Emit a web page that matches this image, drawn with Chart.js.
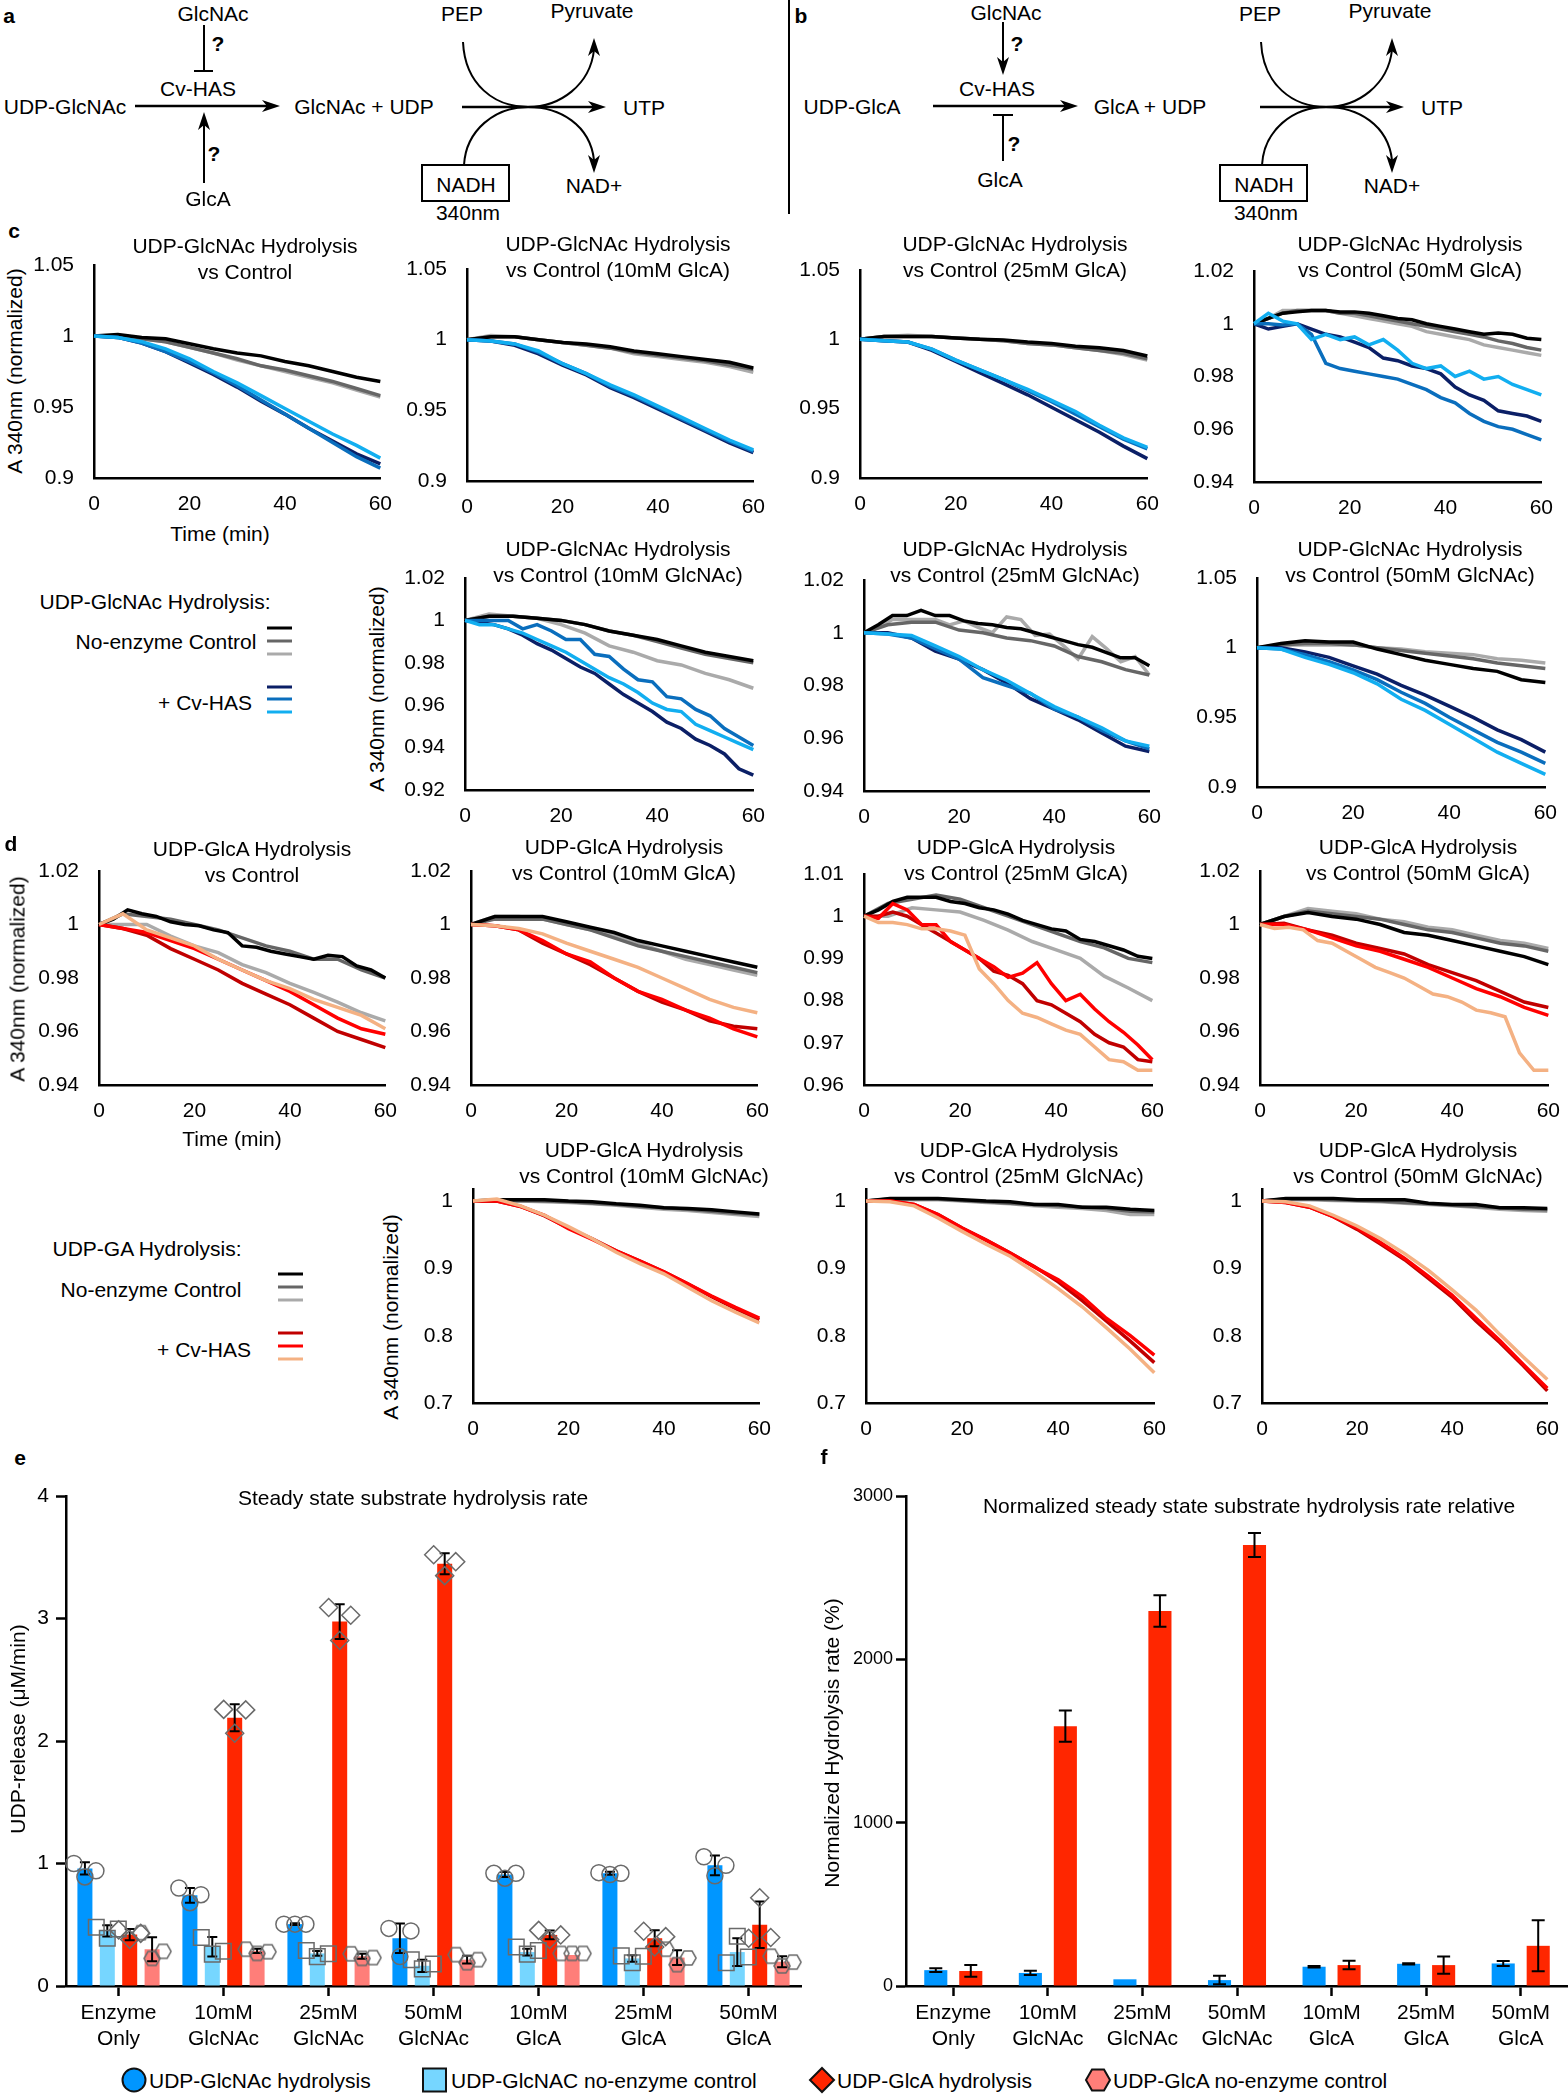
<!DOCTYPE html>
<html>
<head>
<meta charset="utf-8">
<title>Cv-HAS hydrolysis</title>
<script src="https://cdn.jsdelivr.net/npm/chart.js@4"></script>
<style>
  html, body { margin: 0; background: #fff; }
  #page { position: relative; width: 1568px; height: 2096px; overflow: hidden; font-family: "Liberation Sans", Arial, sans-serif; color: #000; }
  #page canvas { position: absolute; }
  #page svg { position: absolute; left: 0; top: 0; }
  .txt { position: absolute; white-space: nowrap; line-height: 1; font-size: 21px; transform: translate(-50%, -50%); }
</style>
</head>
<body>
<div id="page"></div>
<script>
// sampling times, a row with 21 values uses t3, a row with 13 uses t5
const t5 = [0, 5, 10, 15, 20, 25, 30, 35, 40, 45, 50, 55, 60];
const t3 = [0, 3, 6, 9, 12, 15, 18, 21, 24, 27, 30, 33, 36, 39, 42, 45, 48, 51, 54, 57, 60];

// rows: black, dark grey, light grey, then dark, mid, light enzyme curve
const c1Values = [
  [1, 1.001, .999, .998, .9945, .991, .988, .986, .982, .979, .975, .971, .968],
  [1, 1, .998, .996, .992, .988, .984, .979, .976, .972, .968, .963, .958],
  [1, 1, .998, .996, .992, .988, .983, .979, .975, .971, .967, .962, .957],
  [1, .999, .995, .989, .981, .973, .964, .954, .945, .935, .926, .917, .91],
  [1, .999, .995, .989, .982, .974, .965, .955, .945, .935, .925, .915, .907],
  [1, .999, .996, .991, .984, .975, .967, .958, .949, .94, .931, .923, .914]
];
const c2Values = [
  [1, 1.002, 1.002, 1, .998, .997, .995, .992, .99, .988, .986, .984, .98],
  [1, 1.002, 1.002, 1, .998, .996, .994, .991, .989, .987, .985, .982, .979],
  [1, 1.003, 1.002, 1, .998, .996, .994, .99, .988, .986, .984, .981, .977],
  [1, .999, .996, .99, .982, .975, .966, .959, .951, .943, .935, .927, .92],
  [1, .999, .997, .991, .983, .976, .967, .96, .952, .944, .936, .928, .921],
  [1, .999, .997, .992, .983, .976, .968, .961, .953, .945, .937, .929, .922]
];
const c3Values = [
  [1, 1.002, 1.002, 1.002, 1.001, 1, .9995, .998, .997, .995, .994, .992, .988],
  [1, 1.002, 1.002, 1.002, 1.001, 1, .999, .997, .996, .994, .992, .99, .986],
  [1, 1.002, 1.003, 1.002, 1.001, 1, .999, .997, .996, .994, .992, .989, .985],
  [1, .999, .998, .992, .984, .976, .968, .96, .951, .942, .933, .923, .914],
  [1, .999, .998, .993, .985, .978, .971, .963, .955, .946, .937, .928, .921],
  [1, .999, .998, .993, .985, .978, .971, .964, .956, .948, .938, .929, .922]
];
const c4Values = [
  [1, 1.002, 1.004, 1.0045, 1.005, 1.005, 1.0045, 1.0045, 1.004, 1.003, 1.002, 1.0015, 1, .999, .998, .997, .996, .9965, .996, .9945, .994],
  [1, 1.002, 1.004, 1.005, 1.005, 1.005, 1.004, 1.004, 1.003, 1.002, 1.001, 1, .999, .998, .997, .996, .995, .9935, .9925, .991, .99],
  [1, 1.002, 1.005, 1.005, 1.005, 1.005, 1.004, 1.003, 1.002, 1.001, 1, .999, .997, .996, .995, .994, .992, .991, .99, .989, .988],
  [1, .998, .999, 1, .998, .996, .995, .993, .991, .987, .986, .984, .983, .981, .976, .973, .971, .967, .966, .965, .963],
  [1, 1, .9995, 1, .996, .985, .983, .982, .981, .98, .979, .977, .975, .972, .97, .966, .963, .961, .96, .958, .956],
  [1, 1.004, 1.001, 1, .994, .996, .994, .995, .992, .994, .99, .985, .983, .984, .98, .982, .979, .98, .977, .975, .973]
];
const c5Values = [
  [1, 1.002, 1.002, 1.001, 1, .998, .995, .993, .991, .988, .985, .983, .981],
  [1, 1.002, 1.002, 1.001, 1, .998, .995, .993, .99, .987, .984, .982, .98],
  [1, 1.003, 1.002, 1.001, .998, .994, .988, .985, .981, .979, .975, .972, .968],
  [1, .999, .998, .996, .993, .989, .986, .982, .978, .975, .97, .965, .961, .957, .952, .949, .944, .941, .937, .93, .927],
  [1, 1, 1, 1, .996, .998, .995, .991, .991, .984, .983, .977, .972, .971, .964, .963, .958, .955, .949, .945, .941],
  [1, .998, .998, .996, .994, .991, .988, .985, .981, .977, .973, .97, .966, .961, .958, .957, .951, .948, .945, .942, .939]
];
const c6Values = [
  [1, 1.003, 1.0065, 1.0065, 1.0085, 1.0065, 1.0065, 1.0045, 1.0035, 1.003, 1.002, 1.0015, 1, .9985, .997, .9955, .9945, .9925, .9905, .9905, .9875],
  [1, 1.003, 1.004, 1.004, 1.001, 1, .998, .997, .995, .991, .989, .986, .984],
  [1, 1.002, 1.005, 1.005, 1.005, 1.005, 1.003, 1.0045, 1.002, 1, 1.006, 1.005, .999, .9995, .995, .99, .9985, .994, .989, .991, .984],
  [1, 1, .998, .993, .99, .986, .981, .975, .971, .967, .962, .957, .955],
  [1, .9995, .998, .994, .99, .983, .98, .977, .971, .968, .963, .959, .956],
  [1, .9995, .999, .995, .991, .986, .982, .977, .972, .968, .964, .959, .957]
];
const c7Values = [
  [1, 1.003, 1.005, 1.004, 1.004, .999, .995, .991, .988, .985, .983, .977, .975],
  [1, 1.002, 1.003, 1.003, 1.002, 1, .998, .996, .994, .992, .989, .987, .985],
  [1, 1.002, 1.002, 1.002, 1.002, 1, .999, .997, .996, .995, .992, .991, .989],
  [1, 1, .997, .993, .987, .981, .973, .966, .958, .95, .941, .934, .925],
  [1, .999, .995, .99, .984, .977, .968, .96, .95, .941, .932, .925, .917],
  [1, .999, .993, .988, .982, .974, .963, .955, .945, .935, .925, .917, .909]
];
const d1Values = [
  [1, 1.002, 1.0055, 1.004, 1.003, 1.001, 1, .9995, .998, .997, .992, .9915, .99, .989, .988, .987, .9885, .988, .9845, .983, .98],
  [1, 1.004, 1.003, 1.002, 1, .998, .995, .992, .99, .987, .987, .983, .98],
  [1, 1, 1, .9957, .992, .9895, .985, .982, .978, .9746, .971, .967, .964],
  [1, .9985, .996, .991, .987, .983, .978, .974, .97, .965, .96, .957, .954],
  [1, .9985, .997, .994, .991, .987, .983, .979, .975, .97, .965, .961, .959],
  [1, 1.004, .998, .995, .992, .987, .983, .979, .976, .972, .969, .966, .961]
];
const d2Values = [
  [1, 1.003, 1.003, 1.003, 1.001, .999, .997, .994, .992, .99, .988, .986, .984],
  [1, 1.002, 1.002, 1.002, 1, .998, .995, .992, .99, .988, .986, .984, .982],
  [1, 1.003, 1.003, 1.002, 1, .998, .996, .993, .99, .987, .985, .983, .981],
  [1, .9995, .998, .993, .989, .985, .98, .975, .971, .968, .964, .962, .961],
  [1, .9995, .998, .994, .989, .986, .98, .975, .972, .968, .965, .961, .958],
  [1, .9995, .9985, .9965, .993, .99, .987, .984, .98, .976, .972, .969, .967]
];
const d3Values = [
  [1, 1.0015, 1.0035, 1.0045, 1.0045, 1.0045, 1.0035, 1.003, 1.002, 1.0015, 1.0005, .999, .998, .997, .9965, .9945, .994, .993, .992, .9905, .99],
  [1, 1.003, 1.004, 1.005, 1.004, 1.002, 1, .998, .996, .994, .9925, .99, .989],
  [1, 1, 1.002, 1.0015, 1.001, .999, .9967, .994, .992, .99, .9858, .983, .98],
  [1, 1, 1.001, 1, .998, .996, .994, .992, .99, .987, .986, .984, .98, .979, .977, .975, .972, .97, .969, .966, .9655],
  [1, .9995, 1.003, 1.0015, .998, .998, .994, .992, .99, .988, .9855, .9865, .989, .984, .98, .9815, .978, .975, .9725, .9695, .966],
  [1, .9985, .9985, .998, .997, .997, .9965, .9955, .9875, .984, .98, .977, .976, .9745, .973, .972, .969, .966, .9655, .9635, .9635]
];
const d4Values = [
  [1, 1.003, 1.0045, 1.003, 1.002, 1, .997, .996, .994, .992, .99, .988, .985],
  [1, 1.003, 1.005, 1.004, 1.003, 1.002, 1, .998, .997, .995, .993, .992, .99],
  [1, 1.003, 1.006, 1.005, 1.004, 1.002, 1.001, .999, .998, .996, .994, .993, .991],
  [1, 1.0005, .998, .996, .993, .991, .989, .985, .982, .979, .975, .971, .969],
  [1, 1, .998, .995, .992, .99, .987, .984, .98, .976, .973, .969, .966],
  [1, .9985, .999, .998, .994, .993, .99, .987, .984, .982, .98, .977, .974, .973, .971, .968, .967, .9655, .952, .9455, .9455]
];
const d5Values = [
  [1, 1.002, 1.002, 1.002, 1, .999, .996, .994, .99, .989, .987, .984, .981],
  [1, 1, 1.001, 1, .999, .997, .995, .992, .99, .988, .985, .982, .98],
  [1, 1, 1, .999, .998, .996, .994, .991, .988, .986, .983, .98, .977],
  [1, 1, .992, .978, .96, .944, .926, .911, .895, .877, .858, .84, .824],
  [1, 1, .992, .979, .959, .943, .926, .911, .895, .877, .859, .842, .826],
  [1, 1.003, .993, .979, .962, .944, .924, .907, .892, .872, .852, .835, .819]
];
const d6Values = [
  [1, 1.004, 1.004, 1.004, 1.002, 1, .999, .995, .995, .991, .991, .988, .986],
  [1, 1.003, 1.003, 1.003, 1.001, .999, .997, .995, .993, .991, .989, .985, .984],
  [1, 1.002, 1.002, 1.002, 1, .998, .996, .993, .991, .989, .986, .98, .98],
  [1, 1, .995, .98, .96, .942, .923, .903, .88, .852, .822, .792, .76],
  [1, 1, .995, .98, .96, .942, .923, .902, .883, .858, .826, .8, .771],
  [1, .999, .993, .975, .955, .936, .918, .895, .87, .843, .812, .78, .745]
];
const d7Values = [
  [1, 1.004, 1.004, 1.004, 1.002, 1.002, 1.002, .997, .995, .995, .99, .99, .989],
  [1, 1.003, 1.003, 1.002, 1.001, 1, .998, .996, .994, .992, .99, .988, .987],
  [1, 1.002, 1.002, 1.001, 1, .999, .997, .995, .993, .991, .988, .986, .985],
  [1, .998, .991, .977, .958, .936, .913, .885, .857, .822, .79, .755, .718],
  [1, .998, .991, .977, .96, .938, .915, .888, .86, .826, .793, .757, .722],
  [1, .999, .993, .979, .963, .944, .922, .897, .868, .838, .802, .768, .735]
];

// panels e and f
const categories = [["Enzyme", "Only"], ["10mM", "GlcNAc"], ["25mM", "GlcNAc"], ["50mM", "GlcNAc"], ["10mM", "GlcA"], ["25mM", "GlcA"], ["50mM", "GlcA"]];

const blueRate = [.96, .74, .505, .39, .91, .92, .985];
const skyRate = [.45, .32, .266, .165, .277, .225, .277];
const redRate = [.42, 2.19, 2.975, 3.447, .417, .39, .5];
const pinkRate = [.3, .287, .243, .215, .253, .232, .198];

const blueErr = [.05, .06, .007, .12, .02, .012, .08];
const skyErr = [.046, .08, .02, .05, .027, .027, .113];
const redErr = [.046, .11, .142, .085, .036, .065, .19];
const pinkErr = [.097, .017, .02, .032, 0, .06, .044];

const blueDots = [[1, .8, .505, .47, .92, .925, 1.055], [.89, .68, .505, .24, .88, .91, .9], [.94, .745, .505, .45, .92, .92, .985]];
const skyDots = [[.48, .396, .29, .215, .318, .246, .19], [.39, .26, .24, .14, .26, .19, .406], [.465, .283, .263, .18, .29, .243, .236]];
const redDots = [[.458, 2.258, 3.09, 3.52, .454, .447, .39], [.38, 2.063, 2.82, 3.35, .38, .318, .72], [.43, 2.254, 3.027, 3.464, .417, .403, .396]];
const pinkDots = [[.435, .3, .263, .256, .266, .3, .243], [.225, .266, .225, .19, .266, .174, .164], [.283, .28, .232, .215, .266, .229, .195]];

const normBlue = [97, 80, 41, 36, 118, 136, 138];
const normRed = [92, 1591, 2296, 2700, 128, 128, 246];
const normBlueErr = [12, 13, 0, 26, 4, 4, 15];
const normRedErr = [36, 95, 96, 74, 26, 53, 156];

const greys = ["#000000", "#666666", "#aaaaaa"];
const blues = ["#0b1f66", "#0a6ebd", "#12aef0"];
const reds = ["#c00000", "#ff0000", "#f4b183"];

Chart.defaults.font.family = '"Liberation Sans", Arial, sans-serif';
Chart.defaults.font.size = 21;
Chart.defaults.color = "#000";
Chart.defaults.animation = false;

const page = document.getElementById("page");

function label(text, x, y, opts = {}) {
  const el = document.createElement("div");
  el.className = "txt";
  el.textContent = text;
  el.style.left = x + "px";
  el.style.top = y + "px";
  if (opts.bold) el.style.fontWeight = "bold";
  if (opts.rotate) el.style.transform = "translate(-50%, -50%) rotate(-90deg)";
  if (opts.left) el.style.transform = "translate(0, -50%)";
  page.appendChild(el);
}

function addCanvas(left, top, width, height) {
  const canvas = document.createElement("canvas");
  canvas.width = width;
  canvas.height = height;
  canvas.style.left = left + "px";
  canvas.style.top = top + "px";
  canvas.style.width = width + "px";
  canvas.style.height = height + "px";
  page.appendChild(canvas);
  return canvas.getContext("2d");
}

function curveChart(values, colors, x0, x1, top, bottom, min, max, step) {
  // the y axis asks for half a label plus its tick padding above the plot, so mt has to cover that
  const ml = 60, mr = 22, mt = 34, mb = 42;
  const ctx = addCanvas(x0 - ml, top - mt, x1 - x0 + ml + mr, bottom - top + mt + mb);
  const palette = greys.concat(colors);
  const datasets = values.map((row, i) => {
    const times = row.length === 21 ? t3 : t5;
    return {
      data: row.map((v, k) => ({ x: times[k], y: v })),
      borderColor: palette[i],
      borderWidth: 3.5,
      pointRadius: 0,
      tension: 0,
      clip: false,
      order: i < 3 ? 3 + i : 5 - i
    };
  });
  new Chart(ctx, {
    type: "line",
    data: { datasets },
    options: {
      responsive: false,
      layout: { autoPadding: false, padding: { top: mt, right: mr, left: 0, bottom: 0 } },
      plugins: { legend: { display: false }, tooltip: { enabled: false } },
      scales: {
        x: {
          type: "linear", min: 0, max: 60,
          afterFit: (s) => { s.height = mb; },
          grid: { drawOnChartArea: false, drawTicks: false },
          border: { color: "#000", width: 2.5 },
          ticks: { stepSize: 20, padding: 14, maxRotation: 0, includeBounds: false }
        },
        y: {
          min, max,
          afterFit: (s) => { s.width = ml; },
          grid: { drawOnChartArea: false, drawTicks: false },
          border: { color: "#000", width: 2.5 },
          ticks: { stepSize: step, padding: 20, includeBounds: false, callback: (v) => String(+v.toFixed(2)) }
        }
      }
    }
  });
}

curveChart(c1Values, blues, 94, 384, 265, 478, .9, 1.05, .05);
curveChart(c2Values, blues, 467, 757, 269, 481, .9, 1.05, .05);
curveChart(c3Values, blues, 860, 1151, 270, 478, .9, 1.05, .05);
curveChart(c4Values, blues, 1254, 1545, 271, 482, .94, 1.02, .02);
curveChart(c5Values, blues, 465, 757, 578, 790, .92, 1.02, .02);
curveChart(c6Values, blues, 864, 1153, 580, 791, .94, 1.02, .02);
curveChart(c7Values, blues, 1257, 1549, 578, 787, .9, 1.05, .05);
curveChart(d1Values, reds, 99, 389, 871, 1085, .94, 1.02, .02);
curveChart(d2Values, reds, 471, 761, 871, 1085, .94, 1.02, .02);
curveChart(d3Values, reds, 864, 1156, 874, 1085, .96, 1.01, .01);
curveChart(d4Values, reds, 1260, 1552, 871, 1085, .94, 1.02, .02);
curveChart(d5Values, reds, 473, 763, 1189, 1403, .7, 1.018, .1);
curveChart(d6Values, reds, 866, 1158, 1189, 1403, .7, 1.018, .1);
curveChart(d7Values, reds, 1262, 1551, 1189, 1403, .7, 1.018, .1);

// bars do not have error bars in chart.js, so draw them off the y scale
const errorBars = {
  id: "errorBars",
  afterDatasetsDraw(chart, args, opts) {
    const c = chart.ctx;
    const y = chart.scales.y;
    chart.data.datasets.forEach((ds, i) => {
      if (!ds.errors) return;
      chart.getDatasetMeta(i).data.forEach((bar, k) => {
        const e = ds.errors[k];
        if (!e) return;
        const hi = y.getPixelForValue(ds.data[k] + e);
        const lo = y.getPixelForValue(ds.data[k] - e);
        c.save();
        c.strokeStyle = "#000";
        c.lineWidth = 2;
        c.beginPath();
        c.moveTo(bar.x, hi); c.lineTo(bar.x, lo);
        c.moveTo(bar.x - opts.cap, hi); c.lineTo(bar.x + opts.cap, hi);
        c.moveTo(bar.x - opts.cap, lo); c.lineTo(bar.x + opts.cap, lo);
        c.stroke();
        c.restore();
      });
    });
  }
};

function hexagon(size, stroke) {
  const cv = document.createElement("canvas");
  cv.width = size;
  cv.height = size;
  const c = cv.getContext("2d");
  const r = size / 2 - 1;
  c.beginPath();
  for (let i = 0; i < 6; i++) {
    const a = i * Math.PI / 3;
    c.lineTo(size / 2 + r * Math.cos(a), size / 2 + r * Math.sin(a));
  }
  c.closePath();
  c.strokeStyle = stroke;
  c.lineWidth = 1.5;
  c.stroke();
  return cv;
}

const dotShift = [-.105, 0, .105];
const barShift = [-.32, -.1067, .1067, .32];

function dotSet(dots, b, style, radius) {
  const data = [];
  dots.forEach((col, s) => {
    col.forEach((v, i) => data.push({ x: i + .5 + barShift[b] + dotShift[s], y: v }));
  });
  return {
    data, clip: false,
    pointStyle: style, pointRadius: radius,
    pointBackgroundColor: "rgba(0,0,0,0)", pointBorderColor: "#6a6a6a", pointBorderWidth: 1.5
  };
}

function barAxes(yMax, yStep, yFont, yPad, ml, mb) {
  return {
    x: {
      type: "category", offset: true,
      afterFit: (s) => { s.height = mb; },
      grid: { offset: false, drawOnChartArea: false, tickLength: 10, tickWidth: 2.5, tickColor: "#000" },
      border: { color: "#000", width: 2.5 },
      ticks: { padding: 4, maxRotation: 0, autoSkip: false, font: { size: 21, lineHeight: 1.25 } }
    },
    y: {
      min: 0, max: yMax,
      afterFit: (s) => { s.width = ml; },
      grid: { drawOnChartArea: false, tickLength: 10, tickWidth: 2.5, tickColor: "#000" },
      border: { color: "#000", width: 2.5 },
      ticks: { stepSize: yStep, padding: yPad, font: { size: yFont }, callback: (v) => String(v) }
    }
  };
}

new Chart(addCanvas(0, 1474, 817, 582), {
  type: "bar",
  data: {
    labels: categories,
    datasets: [
      { data: blueRate, errors: blueErr, backgroundColor: "#0096ff" },
      { data: skyRate, errors: skyErr, backgroundColor: "#76d6ff" },
      { data: redRate, errors: redErr, backgroundColor: "#ff2600" },
      { data: pinkRate, errors: pinkErr, backgroundColor: "#ff7e79" }
    ]
  },
  options: {
    responsive: false,
    datasets: { bar: { categoryPercentage: .853, barPercentage: .67 } },
    layout: { autoPadding: false, padding: { top: 22, right: 16, left: 0, bottom: 0 } },
    plugins: { legend: { display: false }, tooltip: { enabled: false }, errorBars: { cap: 5 } },
    scales: barAxes(4, 1, 21, 7, 66, 70)
  },
  plugins: [errorBars]
});

// the single replicates go on their own canvas on top, same plot area as the bars
// (scatter sets in the bar chart split the groups into 8 slots)
new Chart(addCanvas(0, 1474, 817, 582), {
  type: "scatter",
  data: {
    datasets: [
      dotSet(blueDots, 0, "circle", 8),
      dotSet(skyDots, 1, "rect", 11),
      dotSet(redDots, 2, "rectRot", 9),
      dotSet(pinkDots, 3, hexagon(18, "#6a6a6a"), 8)
    ]
  },
  options: {
    responsive: false,
    layout: { autoPadding: false, padding: { top: 22, right: 16, left: 66, bottom: 70 } },
    plugins: { legend: { display: false }, tooltip: { enabled: false } },
    scales: {
      x: { type: "linear", display: false, min: 0, max: 7 },
      y: { type: "linear", display: false, min: 0, max: 4 }
    }
  }
});

new Chart(addCanvas(836, 1474, 732, 582), {
  type: "bar",
  data: {
    labels: categories,
    datasets: [
      { data: normBlue, errors: normBlueErr, backgroundColor: "#0096ff" },
      { data: normRed, errors: normRedErr, backgroundColor: "#ff2600" }
    ]
  },
  options: {
    responsive: false,
    datasets: { bar: { categoryPercentage: .74, barPercentage: .66 } },
    layout: { autoPadding: false, padding: { top: 22, right: 0, left: 0, bottom: 0 } },
    plugins: { legend: { display: false }, tooltip: { enabled: false }, errorBars: { cap: 6.5 } },
    scales: barAxes(3000, 1000, 18, 3, 70, 70)
  },
  plugins: [errorBars]
});

// panel titles
const rowTitles = [
  ["UDP-GlcNAc Hydrolysis", "vs Control", 245, 245, 271],
  ["UDP-GlcNAc Hydrolysis", "vs Control (10mM GlcA)", 618, 243, 269],
  ["UDP-GlcNAc Hydrolysis", "vs Control (25mM GlcA)", 1015, 243, 269],
  ["UDP-GlcNAc Hydrolysis", "vs Control (50mM GlcA)", 1410, 243, 269],
  ["UDP-GlcNAc Hydrolysis", "vs Control (10mM GlcNAc)", 618, 548, 574],
  ["UDP-GlcNAc Hydrolysis", "vs Control (25mM GlcNAc)", 1015, 548, 574],
  ["UDP-GlcNAc Hydrolysis", "vs Control (50mM GlcNAc)", 1410, 548, 574],
  ["UDP-GlcA Hydrolysis", "vs Control", 252, 848, 874],
  ["UDP-GlcA Hydrolysis", "vs Control (10mM GlcA)", 624, 846, 872],
  ["UDP-GlcA Hydrolysis", "vs Control (25mM GlcA)", 1016, 846, 872],
  ["UDP-GlcA Hydrolysis", "vs Control (50mM GlcA)", 1418, 846, 872],
  ["UDP-GlcA Hydrolysis", "vs Control (10mM GlcNAc)", 644, 1149, 1175],
  ["UDP-GlcA Hydrolysis", "vs Control (25mM GlcNAc)", 1019, 1149, 1175],
  ["UDP-GlcA Hydrolysis", "vs Control (50mM GlcNAc)", 1418, 1149, 1175]
];
rowTitles.forEach(([a, b, x, y1, y2]) => { label(a, x, y1); label(b, x, y2); });

label("a", 9, 15, { bold: true });
label("b", 801, 15, { bold: true });
label("c", 14, 230, { bold: true });
label("d", 11, 843, { bold: true });
label("e", 20, 1457, { bold: true });
label("f", 824, 1456, { bold: true });

label("A 340nm (normalized)", 14, 371, { rotate: true });
label("A 340nm (normalized)", 376, 689, { rotate: true });
label("A 340nm (normalized)", 17, 979, { rotate: true });
label("A 340nm (normalized)", 390, 1317, { rotate: true });
label("Time (min)", 220, 533);
label("Time (min)", 232, 1138);

label("UDP-GlcNAc Hydrolysis:", 155, 601);
label("No-enzyme Control", 166, 641);
label("+ Cv-HAS", 205, 702);
label("UDP-GA Hydrolysis:", 147, 1248);
label("No-enzyme Control", 151, 1289);
label("+ Cv-HAS", 204, 1349);

label("Steady state substrate hydrolysis rate", 413, 1497);
label("Normalized steady state substrate hydrolysis rate relative", 1249, 1505);
label("UDP-release (μM/min)", 17, 1729, { rotate: true });
label("Normalized Hydrolysis rate (%)", 831, 1743, { rotate: true });

label("UDP-GlcNAc hydrolysis", 149, 2080, { left: true });
label("UDP-GlcNAC no-enzyme control", 451, 2080, { left: true });
label("UDP-GlcA hydrolysis", 837, 2080, { left: true });
label("UDP-GlcA no-enzyme control", 1113, 2080, { left: true });

// pathway schemes a and b
function scheme(dx, texts) {
  texts.forEach(([t, x, y, bold]) => label(t, x + dx, y, { bold }));
}
scheme(0, [
  ["GlcNAc", 213, 13], ["?", 218, 43, true], ["Cv-HAS", 198, 88], ["UDP-GlcNAc", 65, 106],
  ["?", 214, 153, true], ["GlcA", 208, 198], ["GlcNAc + UDP", 364, 106]
]);
scheme(0, [
  ["GlcNAc", 1006, 12], ["?", 1017, 43, true], ["Cv-HAS", 997, 88], ["UDP-GlcA", 852, 106],
  ["?", 1014, 143, true], ["GlcA", 1000, 179], ["GlcA + UDP", 1150, 106]
]);
[0, 798].forEach((dx) => {
  scheme(dx, [
    ["PEP", 462, 13], ["Pyruvate", 592, 10], ["UTP", 644, 107], ["NADH", 466, 184],
    ["NAD+", 594, 185], ["340nm", 468, 212]
  ]);
});

const arrowUp = (x, y) => `M${x} ${y}L${x + 6} ${y + 18}L${x} ${y + 13}L${x - 6} ${y + 18}Z`;
const arrowDown = (x, y) => `M${x} ${y}L${x + 6} ${y - 18}L${x} ${y - 13}L${x - 6} ${y - 18}Z`;
const arrowRight = (x, y) => `M${x} ${y}L${x - 18} ${y + 6}L${x - 13} ${y}L${x - 18} ${y - 6}Z`;

function exchange(dx) {
  const x = (v) => v + dx;
  return `<path d="M${x(463)} 42C${x(465)} 85 ${x(495)} 107 ${x(528)} 107C${x(560)} 107 ${x(590)} 85 ${x(594)} 50" fill="none" stroke="#000" stroke-width="2"/>
  <path d="M${x(464)} 165C${x(466)} 130 ${x(495)} 107 ${x(528)} 107C${x(560)} 107 ${x(590)} 125 ${x(594)} 160" fill="none" stroke="#000" stroke-width="2"/>
  <path d="M${x(462)} 107H${x(595)}" stroke="#000" stroke-width="2.5"/>
  <path d="${arrowRight(x(606), 107)}${arrowUp(x(594), 38)}${arrowDown(x(594), 173)}"/>
  <rect x="${x(422)}" y="165" width="87" height="36" fill="none" stroke="#000" stroke-width="2"/>`;
}

const legendLine = (x, y, c) => `<path d="M${x} ${y}h25" stroke="${c}" stroke-width="3"/>`;
const hexPath = (cx, cy, r) => [0, 1, 2, 3, 4, 5].map((i) => `${cx + r * Math.cos(i * Math.PI / 3)},${cy + r * Math.sin(i * Math.PI / 3)}`).join(" ");

const svg = `<svg width="1568" height="2096" xmlns="http://www.w3.org/2000/svg">
  <path d="M789 0V214" stroke="#000" stroke-width="2"/>
  <path d="M204 25V71M194 71H213" stroke="#000" stroke-width="2" fill="none"/>
  <path d="M135 106H270" stroke="#000" stroke-width="2.5"/>
  <path d="M204 183V125" stroke="#000" stroke-width="2"/>
  <path d="${arrowRight(280, 106)}${arrowUp(204, 112)}"/>
  <path d="M1003 22V65" stroke="#000" stroke-width="2"/>
  <path d="M933 106H1068" stroke="#000" stroke-width="2.5"/>
  <path d="M1003 161V115M993 115H1013" stroke="#000" stroke-width="2" fill="none"/>
  <path d="${arrowDown(1003, 75)}${arrowRight(1078, 106)}"/>
  ${exchange(0)}${exchange(798)}
  ${legendLine(267, 628, greys[0])}${legendLine(267, 641, greys[1])}${legendLine(267, 654, greys[2])}
  ${legendLine(267, 687, blues[0])}${legendLine(267, 699, blues[1])}${legendLine(267, 712, blues[2])}
  ${legendLine(278, 1274, greys[0])}${legendLine(278, 1287, greys[1])}${legendLine(278, 1300, greys[2])}
  ${legendLine(278, 1333, reds[0])}${legendLine(278, 1346, reds[1])}${legendLine(278, 1359, reds[2])}
  <circle cx="134" cy="2080" r="11.5" fill="#0096ff" stroke="#111" stroke-width="2"/>
  <rect x="423" y="2068.5" width="23" height="23" fill="#76d6ff" stroke="#111" stroke-width="2"/>
  <path d="M822 2068L834 2080L822 2092L810 2080Z" fill="#ff2600" stroke="#111" stroke-width="2"/>
  <polygon points="${hexPath(1098, 2080, 12)}" fill="#ff7e79" stroke="#111" stroke-width="2"/>
</svg>`;
page.insertAdjacentHTML("beforeend", svg);
</script>
</body>
</html>
